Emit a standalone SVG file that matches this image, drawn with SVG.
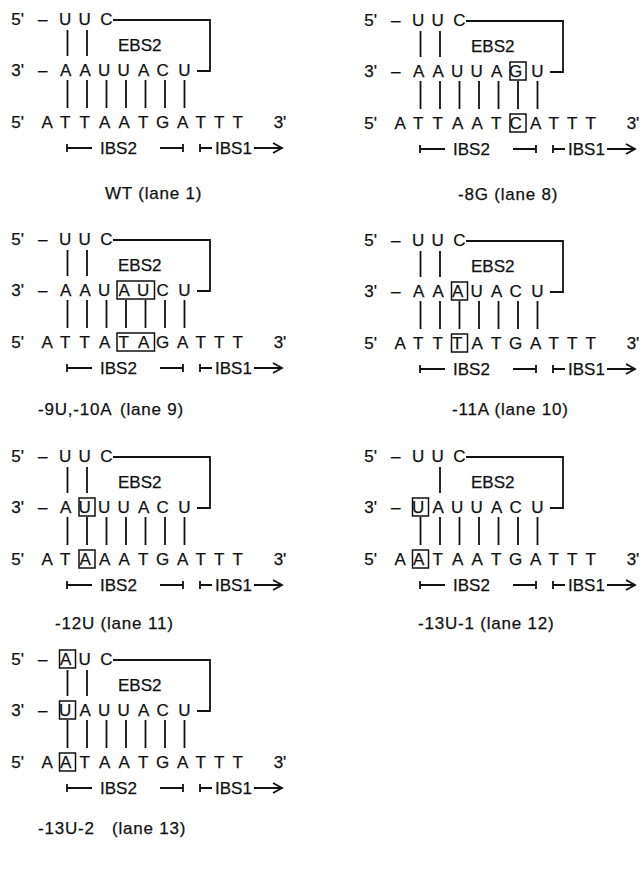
<svg xmlns="http://www.w3.org/2000/svg" width="644" height="869" viewBox="0 0 644 869">
<style>
text{font-family:"Liberation Sans",Arial,Helvetica,sans-serif;font-size:17px;fill:#111;stroke:#111;stroke-width:0.25}
.r{text-anchor:middle}
.cap{letter-spacing:0.8px}
.l{stroke:#111;stroke-width:1.8;fill:none}
.b{stroke:#111;stroke-width:1.5;fill:none}
</style>
<defs>
<g id="frame">
<path class="l" d="M113,20H210V71H197"/>
<path class="l" d="M67,144V152M67,148H92M160,148H183M183,144V152M200,144V152M200,148H212M254,148H281M273,143L282,148L273,153"/>
<path class="l" d="M67.5,80V108M87,80V108M106.5,80V108M126,80V108M145.5,80V108M165,80V108M184.5,80V108"/>
</g>
</defs>

<g id="wt">
<use href="#frame"/>
<path class="l" d="M67.5,30V56M87,30V56"/>
<text class="r" y="25"><tspan x="20">5'</tspan> <tspan x="45">–</tspan> <tspan x="67.5">U</tspan> <tspan x="87">U</tspan> <tspan x="106.5">C</tspan></text>
<text x="118" y="51">EBS2</text>
<text class="r" y="76"><tspan x="20">3'</tspan> <tspan x="45">–</tspan> <tspan x="67.5">A</tspan> <tspan x="87">A</tspan> <tspan x="106.5">U</tspan> <tspan x="126">U</tspan> <tspan x="145.5">A</tspan> <tspan x="165">C</tspan> <tspan x="184.5">U</tspan></text>
<text class="r" y="128"><tspan x="20">5'</tspan> <tspan x="49">A</tspan> <tspan x="67.5">T</tspan> <tspan x="87">T</tspan> <tspan x="106.5">A</tspan> <tspan x="126">A</tspan> <tspan x="145.5">T</tspan> <tspan x="165">G</tspan> <tspan x="184.5">A</tspan> <tspan x="203">T</tspan> <tspan x="221.5">T</tspan> <tspan x="240">T</tspan> <tspan x="280">3'</tspan></text>
<text x="100" y="154">IBS2</text><text x="215" y="154">IBS1</text>
<text class="cap" x="105" y="199">WT (lane 1)</text>
</g>

<g id="m8G" transform="translate(353,1)">
<use href="#frame"/>
<path class="l" d="M67.5,30V56M87,30V56"/>
<rect class="b" x="157" y="61" width="16" height="18"/>
<rect class="b" x="157" y="113" width="16" height="18"/>
<text class="r" y="25"><tspan x="20">5'</tspan> <tspan x="45">–</tspan> <tspan x="67.5">U</tspan> <tspan x="87">U</tspan> <tspan x="106.5">C</tspan></text>
<text x="118" y="51">EBS2</text>
<text class="r" y="76"><tspan x="20">3'</tspan> <tspan x="45">–</tspan> <tspan x="67.5">A</tspan> <tspan x="87">A</tspan> <tspan x="106.5">U</tspan> <tspan x="126">U</tspan> <tspan x="145.5">A</tspan> <tspan x="165">G</tspan> <tspan x="184.5">U</tspan></text>
<text class="r" y="128"><tspan x="20">5'</tspan> <tspan x="49">A</tspan> <tspan x="67.5">T</tspan> <tspan x="87">T</tspan> <tspan x="106.5">A</tspan> <tspan x="126">A</tspan> <tspan x="145.5">T</tspan> <tspan x="165">C</tspan> <tspan x="184.5">A</tspan> <tspan x="203">T</tspan> <tspan x="221.5">T</tspan> <tspan x="240">T</tspan> <tspan x="280">3'</tspan></text>
<text x="100" y="154">IBS2</text><text x="215" y="154">IBS1</text>
<text class="cap" x="105" y="199">-8G (lane 8)</text>
</g>

<g id="m9U10A" transform="translate(0,220)">
<use href="#frame"/>
<path class="l" d="M67.5,30V56M87,30V56"/>
<rect class="b" x="117" y="61" width="37.5" height="18"/>
<rect class="b" x="117" y="113" width="37.5" height="18"/>
<text class="r" y="25"><tspan x="20">5'</tspan> <tspan x="45">–</tspan> <tspan x="67.5">U</tspan> <tspan x="87">U</tspan> <tspan x="106.5">C</tspan></text>
<text x="118" y="51">EBS2</text>
<text class="r" y="76"><tspan x="20">3'</tspan> <tspan x="45">–</tspan> <tspan x="67.5">A</tspan> <tspan x="87">A</tspan> <tspan x="106.5">U</tspan> <tspan x="126">A</tspan> <tspan x="145.5">U</tspan> <tspan x="165">C</tspan> <tspan x="184.5">U</tspan></text>
<text class="r" y="128"><tspan x="20">5'</tspan> <tspan x="49">A</tspan> <tspan x="67.5">T</tspan> <tspan x="87">T</tspan> <tspan x="106.5">A</tspan> <tspan x="126">T</tspan> <tspan x="145.5">A</tspan> <tspan x="165">G</tspan> <tspan x="184.5">A</tspan> <tspan x="203">T</tspan> <tspan x="221.5">T</tspan> <tspan x="240">T</tspan> <tspan x="280">3'</tspan></text>
<text x="100" y="154">IBS2</text><text x="215" y="154">IBS1</text>
<text class="cap" y="195"><tspan x="38">-9U,-10A</tspan> <tspan x="120">(lane 9)</tspan></text>
</g>

<g id="m11A" transform="translate(353,221)">
<use href="#frame"/>
<path class="l" d="M67.5,30V56M87,30V56"/>
<rect class="b" x="98.5" y="61" width="16" height="18"/>
<rect class="b" x="98.5" y="113" width="16" height="18"/>
<text class="r" y="25"><tspan x="20">5'</tspan> <tspan x="45">–</tspan> <tspan x="67.5">U</tspan> <tspan x="87">U</tspan> <tspan x="106.5">C</tspan></text>
<text x="118" y="51">EBS2</text>
<text class="r" y="76"><tspan x="20">3'</tspan> <tspan x="45">–</tspan> <tspan x="67.5">A</tspan> <tspan x="87">A</tspan> <tspan x="106.5">A</tspan> <tspan x="126">U</tspan> <tspan x="145.5">A</tspan> <tspan x="165">C</tspan> <tspan x="184.5">U</tspan></text>
<text class="r" y="128"><tspan x="20">5'</tspan> <tspan x="49">A</tspan> <tspan x="67.5">T</tspan> <tspan x="87">T</tspan> <tspan x="106.5">T</tspan> <tspan x="126">A</tspan> <tspan x="145.5">T</tspan> <tspan x="165">G</tspan> <tspan x="184.5">A</tspan> <tspan x="203">T</tspan> <tspan x="221.5">T</tspan> <tspan x="240">T</tspan> <tspan x="280">3'</tspan></text>
<text x="100" y="154">IBS2</text><text x="215" y="154">IBS1</text>
<text class="cap" x="99" y="194">-11A (lane 10)</text>
</g>

<g id="m12U" transform="translate(0,437)">
<use href="#frame"/>
<path class="l" d="M67.5,30V56M87,30V56"/>
<rect class="b" x="79" y="61" width="16" height="18"/>
<rect class="b" x="79" y="113" width="16" height="18"/>
<text class="r" y="25"><tspan x="20">5'</tspan> <tspan x="45">–</tspan> <tspan x="67.5">U</tspan> <tspan x="87">U</tspan> <tspan x="106.5">C</tspan></text>
<text x="118" y="51">EBS2</text>
<text class="r" y="76"><tspan x="20">3'</tspan> <tspan x="45">–</tspan> <tspan x="67.5">A</tspan> <tspan x="87">U</tspan> <tspan x="106.5">U</tspan> <tspan x="126">U</tspan> <tspan x="145.5">A</tspan> <tspan x="165">C</tspan> <tspan x="184.5">U</tspan></text>
<text class="r" y="128"><tspan x="20">5'</tspan> <tspan x="49">A</tspan> <tspan x="67.5">T</tspan> <tspan x="87">A</tspan> <tspan x="106.5">A</tspan> <tspan x="126">A</tspan> <tspan x="145.5">T</tspan> <tspan x="165">G</tspan> <tspan x="184.5">A</tspan> <tspan x="203">T</tspan> <tspan x="221.5">T</tspan> <tspan x="240">T</tspan> <tspan x="280">3'</tspan></text>
<text x="100" y="154">IBS2</text><text x="215" y="154">IBS1</text>
<text class="cap" x="55" y="192">-12U (lane 11)</text>
</g>

<g id="m13U1" transform="translate(353,437)">
<use href="#frame"/>
<path class="l" d="M87,30V56"/>
<rect class="b" x="59.5" y="61" width="16" height="18"/>
<rect class="b" x="59.5" y="113" width="16" height="18"/>
<text class="r" y="25"><tspan x="20">5'</tspan> <tspan x="45">–</tspan> <tspan x="67.5">U</tspan> <tspan x="87">U</tspan> <tspan x="106.5">C</tspan></text>
<text x="118" y="51">EBS2</text>
<text class="r" y="76"><tspan x="20">3'</tspan> <tspan x="45">–</tspan> <tspan x="67.5">U</tspan> <tspan x="87">A</tspan> <tspan x="106.5">U</tspan> <tspan x="126">U</tspan> <tspan x="145.5">A</tspan> <tspan x="165">C</tspan> <tspan x="184.5">U</tspan></text>
<text class="r" y="128"><tspan x="20">5'</tspan> <tspan x="49">A</tspan> <tspan x="67.5">A</tspan> <tspan x="87">T</tspan> <tspan x="106.5">A</tspan> <tspan x="126">A</tspan> <tspan x="145.5">T</tspan> <tspan x="165">G</tspan> <tspan x="184.5">A</tspan> <tspan x="203">T</tspan> <tspan x="221.5">T</tspan> <tspan x="240">T</tspan> <tspan x="280">3'</tspan></text>
<text x="100" y="154">IBS2</text><text x="215" y="154">IBS1</text>
<text class="cap" x="65" y="192">-13U-1 (lane 12)</text>
</g>

<g id="m13U2" transform="translate(0,640)">
<use href="#frame"/>
<path class="l" d="M67.5,30V56M87,30V56"/>
<rect class="b" x="59.5" y="10" width="16" height="18"/>
<rect class="b" x="59.5" y="61" width="16" height="18"/>
<rect class="b" x="59.5" y="113" width="16" height="18"/>
<text class="r" y="25"><tspan x="20">5'</tspan> <tspan x="45">–</tspan> <tspan x="67.5">A</tspan> <tspan x="87">U</tspan> <tspan x="106.5">C</tspan></text>
<text x="118" y="51">EBS2</text>
<text class="r" y="76"><tspan x="20">3'</tspan> <tspan x="45">–</tspan> <tspan x="67.5">U</tspan> <tspan x="87">A</tspan> <tspan x="106.5">U</tspan> <tspan x="126">U</tspan> <tspan x="145.5">A</tspan> <tspan x="165">C</tspan> <tspan x="184.5">U</tspan></text>
<text class="r" y="128"><tspan x="20">5'</tspan> <tspan x="49">A</tspan> <tspan x="67.5">A</tspan> <tspan x="87">T</tspan> <tspan x="106.5">A</tspan> <tspan x="126">A</tspan> <tspan x="145.5">T</tspan> <tspan x="165">G</tspan> <tspan x="184.5">A</tspan> <tspan x="203">T</tspan> <tspan x="221.5">T</tspan> <tspan x="240">T</tspan> <tspan x="280">3'</tspan></text>
<text x="100" y="154">IBS2</text><text x="215" y="154">IBS1</text>
<text class="cap" y="194"><tspan x="38">-13U-2</tspan> <tspan x="112">(lane 13)</tspan></text>
</g>
</svg>
